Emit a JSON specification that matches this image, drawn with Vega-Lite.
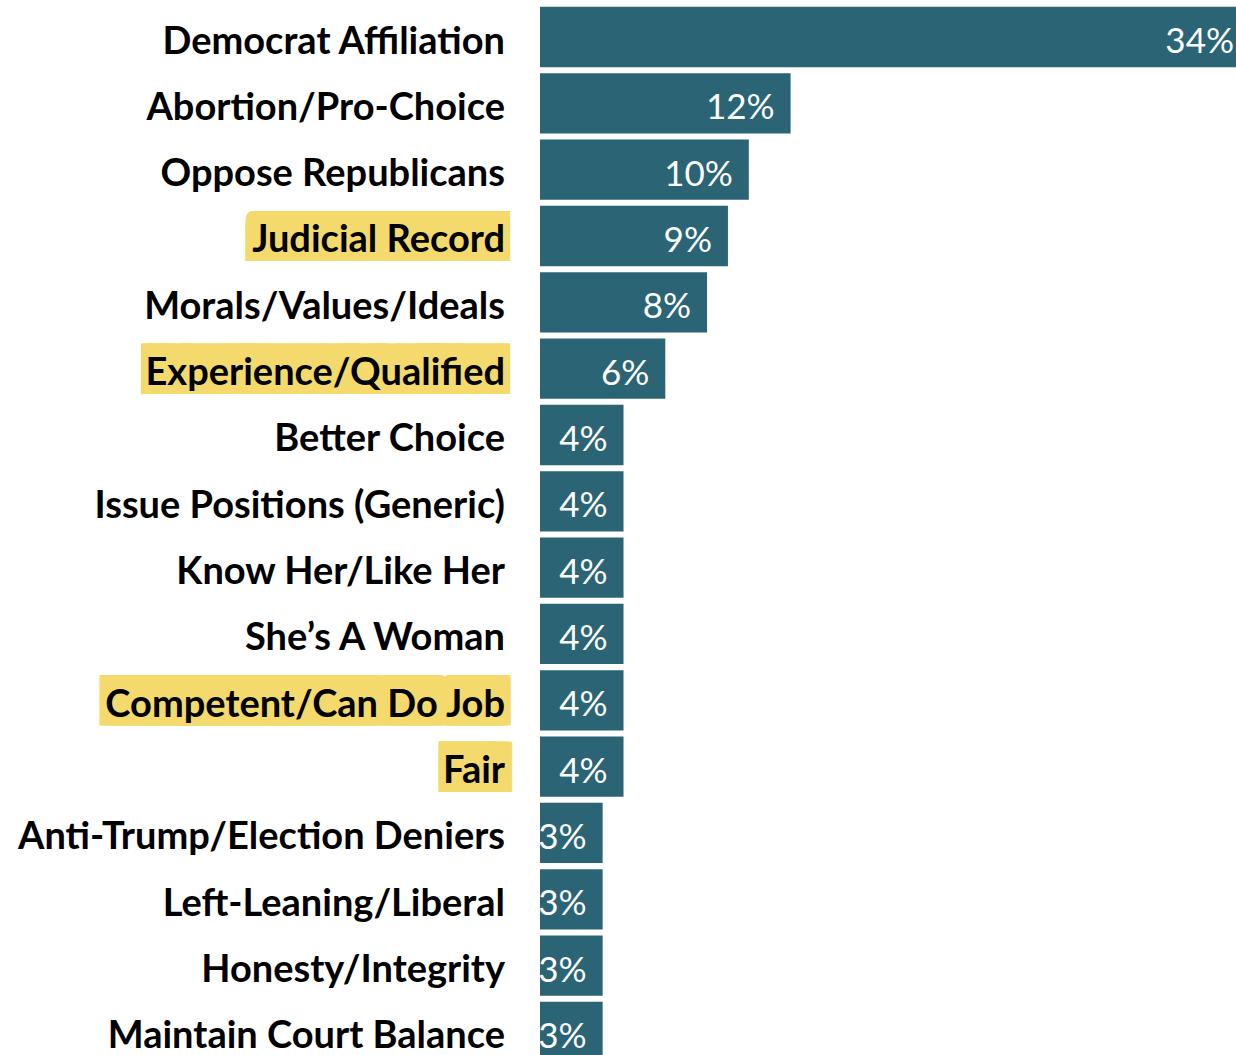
{
  "$schema": "https://vega.github.io/schema/vega-lite/v6.json",
  "padding": {"top": 6, "left": 0, "right": 0, "bottom": 0},
  "background": "white",
  "bounds": "flush",
  "config": {"view": {"stroke": null}},
  "data": {"values": [
    {"label": "Democrat Affiliation", "pct": 0.34, "highlight": false},
    {"label": "Abortion/Pro-Choice", "pct": 0.12, "highlight": false},
    {"label": "Oppose Republicans", "pct": 0.10, "highlight": false},
    {"label": "Judicial Record", "pct": 0.09, "highlight": true},
    {"label": "Morals/Values/Ideals", "pct": 0.08, "highlight": false},
    {"label": "Experience/Qualified", "pct": 0.06, "highlight": true},
    {"label": "Better Choice", "pct": 0.04, "highlight": false},
    {"label": "Issue Positions (Generic)", "pct": 0.04, "highlight": false},
    {"label": "Know Her/Like Her", "pct": 0.04, "highlight": false},
    {"label": "She’s A Woman", "pct": 0.04, "highlight": false},
    {"label": "Competent/Can Do Job", "pct": 0.04, "highlight": true},
    {"label": "Fair", "pct": 0.04, "highlight": true},
    {"label": "Anti-Trump/Election Deniers", "pct": 0.03, "highlight": false},
    {"label": "Left-Leaning/Liberal", "pct": 0.03, "highlight": false},
    {"label": "Honesty/Integrity", "pct": 0.03, "highlight": false},
    {"label": "Maintain Court Balance", "pct": 0.03, "highlight": false}
  ]},
  "facet": {"row": {"field": "label", "type": "nominal", "header": null, "title": null, "sort": [
    "Democrat Affiliation", "Abortion/Pro-Choice", "Oppose Republicans", "Judicial Record", "Morals/Values/Ideals", "Experience/Qualified", "Better Choice", "Issue Positions (Generic)", "Know Her/Like Her", "She’s A Woman", "Competent/Can Do Job", "Fair", "Anti-Trump/Election Deniers", "Left-Leaning/Liberal", "Honesty/Integrity", "Maintain Court Balance"
  ]}},
  "spacing": 16.33,
  "spec": {
    "width": 1250,
    "height": 50,
    "encoding": {
      "y": {"datum": 0.5, "type": "quantitative", "scale": {"domain": [0, 1], "nice": false, "zero": false}, "axis": null},
      "text": {"field": "label", "type": "nominal"}
    },
    "layer": [
      {"transform": [{"filter": "datum.highlight"}], "mark": {"type": "text", "font": "Lato", "fontWeight": "bold", "fontSize": 38, "align": "right", "baseline": "alphabetic", "dx": -35, "dy": -13.5, "fill": "#F4DA6C", "stroke": "#F4DA6C", "strokeWidth": 14, "clip": true}, "encoding": {"x": {"datum": 0, "type": "quantitative", "scale": {"domain": [-0.25859, 0.34], "zero": false, "nice": false}, "axis": null}}},
      {"transform": [{"filter": "datum.highlight"}], "mark": {"type": "text", "font": "Lato", "fontWeight": "bold", "fontSize": 38, "align": "right", "baseline": "alphabetic", "dx": -35, "dy": -8.5, "fill": "#F4DA6C", "stroke": "#F4DA6C", "strokeWidth": 14, "clip": true}, "encoding": {"x": {"datum": 0, "type": "quantitative"}}},
      {"transform": [{"filter": "datum.highlight"}], "mark": {"type": "text", "font": "Lato", "fontWeight": "bold", "fontSize": 38, "align": "right", "baseline": "alphabetic", "dx": -35, "dy": -3.5, "fill": "#F4DA6C", "stroke": "#F4DA6C", "strokeWidth": 14, "clip": true}, "encoding": {"x": {"datum": 0, "type": "quantitative"}}},
      {"transform": [{"filter": "datum.highlight"}], "mark": {"type": "text", "font": "Lato", "fontWeight": "bold", "fontSize": 38, "align": "right", "baseline": "alphabetic", "dx": -35, "dy": 1.5, "fill": "#F4DA6C", "stroke": "#F4DA6C", "strokeWidth": 14, "clip": true}, "encoding": {"x": {"datum": 0, "type": "quantitative"}}},
      {"transform": [{"filter": "datum.highlight"}], "mark": {"type": "text", "font": "Lato", "fontWeight": "bold", "fontSize": 38, "align": "right", "baseline": "alphabetic", "dx": -35, "dy": 6.5, "fill": "#F4DA6C", "stroke": "#F4DA6C", "strokeWidth": 14, "clip": true}, "encoding": {"x": {"datum": 0, "type": "quantitative"}}},
      {"transform": [{"filter": "datum.highlight"}], "mark": {"type": "text", "font": "Lato", "fontWeight": "bold", "fontSize": 38, "align": "right", "baseline": "alphabetic", "dx": -35, "dy": 11.5, "fill": "#F4DA6C", "stroke": "#F4DA6C", "strokeWidth": 14, "clip": true}, "encoding": {"x": {"datum": 0, "type": "quantitative"}}},
      {"transform": [{"filter": "datum.highlight"}], "mark": {"type": "text", "font": "Lato", "fontWeight": "bold", "fontSize": 38, "align": "right", "baseline": "alphabetic", "dx": -35, "dy": 16.5, "fill": "#F4DA6C", "stroke": "#F4DA6C", "strokeWidth": 14, "clip": true}, "encoding": {"x": {"datum": 0, "type": "quantitative"}}},
      {"transform": [{"filter": "datum.highlight"}], "mark": {"type": "text", "font": "Lato", "fontWeight": "bold", "fontSize": 38, "align": "right", "baseline": "alphabetic", "dx": -35, "dy": 21.5, "fill": "#F4DA6C", "stroke": "#F4DA6C", "strokeWidth": 14, "clip": true}, "encoding": {"x": {"datum": 0, "type": "quantitative"}}},
      {"transform": [{"filter": "datum.highlight"}], "mark": {"type": "text", "font": "Lato", "fontWeight": "bold", "fontSize": 38, "align": "right", "baseline": "alphabetic", "dx": -35, "dy": 26.5, "fill": "#F4DA6C", "stroke": "#F4DA6C", "strokeWidth": 14, "clip": true}, "encoding": {"x": {"datum": 0, "type": "quantitative"}}},
      {"transform": [{"filter": "datum.highlight"}], "mark": {"type": "text", "font": "Lato", "fontWeight": "bold", "fontSize": 38, "align": "right", "baseline": "alphabetic", "dx": -35, "dy": 31.5, "fill": "#F4DA6C", "stroke": "#F4DA6C", "strokeWidth": 14, "clip": true}, "encoding": {"x": {"datum": 0, "type": "quantitative"}}},
      {"transform": [{"filter": "datum.highlight"}], "mark": {"type": "text", "font": "Lato", "fontWeight": "bold", "fontSize": 38, "align": "right", "baseline": "alphabetic", "dx": -35, "dy": 36.5, "fill": "#F4DA6C", "stroke": "#F4DA6C", "strokeWidth": 14, "clip": true}, "encoding": {"x": {"datum": 0, "type": "quantitative"}}},
      {"transform": [{"filter": "datum.highlight"}], "mark": {"type": "text", "font": "Lato", "fontWeight": "bold", "fontSize": 38, "align": "right", "baseline": "alphabetic", "dx": -35, "dy": 41.5, "fill": "#F4DA6C", "stroke": "#F4DA6C", "strokeWidth": 14, "clip": true}, "encoding": {"x": {"datum": 0, "type": "quantitative"}}},
      {"transform": [{"filter": "datum.highlight"}], "mark": {"type": "text", "font": "Lato", "fontWeight": "bold", "fontSize": 38, "align": "right", "baseline": "alphabetic", "dx": -35, "dy": 46.5, "fill": "#F4DA6C", "stroke": "#F4DA6C", "strokeWidth": 14, "clip": true}, "encoding": {"x": {"datum": 0, "type": "quantitative"}}},
      {"mark": {"type": "text", "font": "Lato", "fontWeight": "bold", "fontSize": 38, "align": "right", "baseline": "alphabetic", "dx": -35, "dy": 16.5, "fill": "#000000"}, "encoding": {"x": {"datum": 0, "type": "quantitative"}}},
      {
        "mark": {"type": "rect", "fill": "#2A6475"},
        "encoding": {
          "x": {"field": "pct", "type": "quantitative"},
          "x2": {"datum": 0},
          "y": {"datum": -0.103, "type": "quantitative"},
          "y2": {"datum": 1.103}
        }
      },
      {
        "mark": {"type": "text", "font": "Lato", "fontSize": 35, "align": "right", "baseline": "alphabetic", "dx": -16, "dy": 16, "fill": "#FFFFFF"},
        "encoding": {
          "x": {"field": "pct", "type": "quantitative"},
          "text": {"field": "pct", "type": "quantitative", "format": ".0%"}
        }
      }
    ]
  }
}
